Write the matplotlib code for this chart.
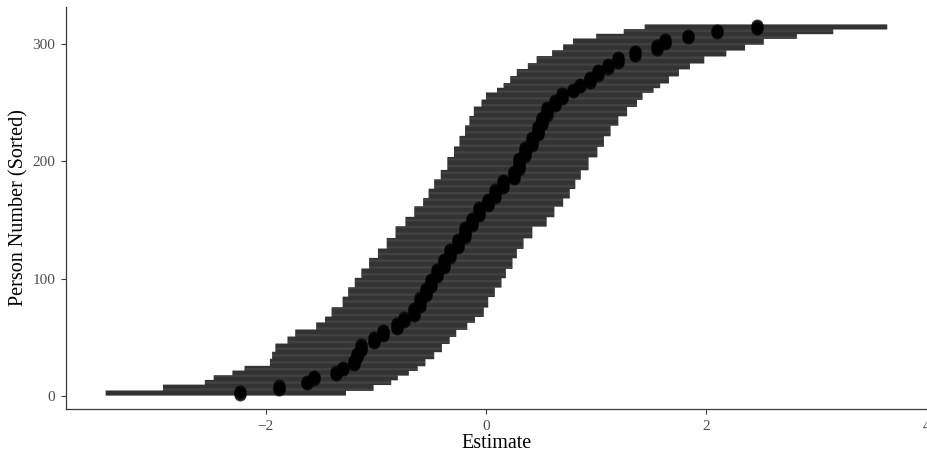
import matplotlib
matplotlib.use("Agg")
import matplotlib.pyplot as plt
import numpy as np

# person estimates grouped by (nearly) equal value, sorted
group_est = [-2.23, -1.88, -1.62, -1.56, -1.36, -1.30, -1.20, -1.17, -1.13, -1.02,
             -0.93, -0.81, -0.74, -0.65, -0.60, -0.54, -0.50, -0.44, -0.38, -0.33,
             -0.25, -0.19, -0.13, -0.06, 0.02, 0.08, 0.15, 0.25, 0.30, 0.35,
             0.42, 0.47, 0.51, 0.55, 0.63, 0.69, 0.79, 0.85, 0.94, 1.02,
             1.11, 1.20, 1.35, 1.55, 1.62, 1.83, 2.10, 2.46]
group_n = [4, 5, 4, 4, 4, 4, 6, 6, 7, 6,
           6, 6, 5, 8, 9, 8, 8, 8, 9, 8,
           9, 10, 8, 9, 7, 8, 8, 8, 11, 9,
           9, 9, 8, 8, 6, 6, 4, 4, 6, 6,
           5, 6, 5, 5, 5, 4, 4, 4]
# lower / upper ends of the interval bars
group_lo = [-3.45, -2.93, -2.55, -2.47, -2.30, -2.19, -1.96, -1.94, -1.91, -1.80,
            -1.73, -1.54, -1.46, -1.40, -1.30, -1.25, -1.19, -1.13, -1.06, -0.98,
            -0.90, -0.82, -0.73, -0.65, -0.57, -0.52, -0.47, -0.41, -0.35, -0.29,
            -0.24, -0.19, -0.15, -0.11, -0.04, 0.00, 0.10, 0.16, 0.22, 0.28,
            0.38, 0.46, 0.60, 0.70, 0.79, 1.00, 1.25, 1.44]
group_hi = [-1.27, -1.02, -0.86, -0.80, -0.70, -0.62, -0.55, -0.47, -0.40, -0.33,
            -0.27, -0.17, -0.10, -0.02, 0.02, 0.08, 0.14, 0.18, 0.24, 0.28,
            0.34, 0.42, 0.55, 0.62, 0.70, 0.76, 0.81, 0.86, 0.93, 1.01,
            1.07, 1.13, 1.20, 1.28, 1.37, 1.42, 1.52, 1.58, 1.66, 1.75,
            1.85, 1.98, 2.18, 2.35, 2.52, 2.82, 3.15, 3.64]

est = np.repeat(group_est, group_n)
lo = np.repeat(group_lo, group_n)
hi = np.repeat(group_hi, group_n)
person = np.arange(1, len(est) + 1)

plt.rcParams['font.family'] = ['Liberation Serif', 'DejaVu Serif']

fig = plt.figure(figsize=(9.28, 4.58), dpi=100)
ax = fig.add_axes([66/928, 49/458, 862/928, 402/458])

ax.hlines(person, lo, hi, color='#333333', linewidth=1.15, snap=False)
ax.scatter(est, person, s=76, color='black', alpha=0.7, linewidths=0, zorder=3)

ax.set_xlim(-3.81, 4.01)
ax.set_ylim(-11.1, 331.5)
ax.set_xticks([-2, 0, 2, 4])
ax.set_xticklabels(['\u22122', '0', '2', '4'])
ax.set_yticks([0, 100, 200, 300])

for s in ['top', 'right']:
    ax.spines[s].set_visible(False)
for s in ['left', 'bottom']:
    ax.spines[s].set_color('#3a3a3a')
    ax.spines[s].set_linewidth(0.9)
ax.tick_params(length=3.6, width=0.8, color='#3a3a3a', labelcolor='#4d4d4d',
               labelsize=11, pad=4)

ax.set_xlabel('Estimate', fontsize=14.5, labelpad=1)
ax.set_ylabel('Person Number (Sorted)', fontsize=14.5, labelpad=3)

fig.savefig('out.png', dpi=100)
